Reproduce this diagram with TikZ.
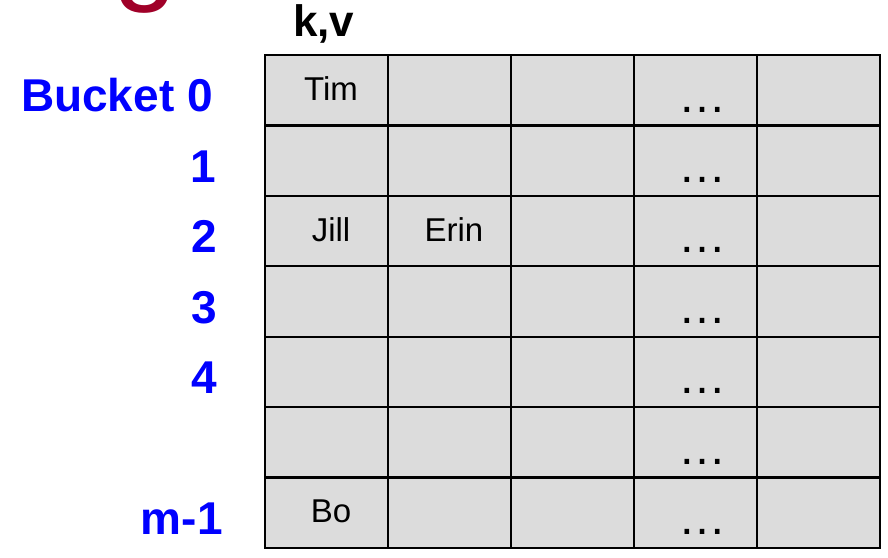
\documentclass[tikz,border=0pt]{standalone}
\usepackage{fontspec}
\setmainfont{Liberation Sans}
\usetikzlibrary{positioning}
\definecolor{cellGray}{HTML}{DCDCDC}
\definecolor{bktBlue}{HTML}{0000FF}
\definecolor{titleRed}{HTML}{A00028}
\tikzset{
  slot/.style={draw=black, line width=2.2pt, fill=cellGray, minimum width=123pt,
    minimum height=70.43pt, inner sep=0pt},
  entry/.style={font=\fontsize{33}{36}\selectfont, anchor=base, inner sep=0pt},
  bktlbl/.style={font=\fontsize{46}{50}\selectfont\bfseries, text=bktBlue,
    anchor=base east, inner sep=0pt}
}
\begin{document}
\begin{tikzpicture}[x=1pt, y=1pt]
  \useasboundingbox (0,0) rectangle (888,557);
  \clip (0,0) rectangle (888,557);
  % bottom of the title letter, cut off by the frame
  \node[font=\fontsize{115}{120}\selectfont, text=titleRed, anchor=base, inner sep=0pt] (ttl) at (145,567) {g};
  % the buckets
  \foreach \r in {0,...,6}
    \foreach \c in {0,...,4}
      \node[slot] (s\r\c) at ({326.5+123*\c},{502-70.43*(\r+0.5)}) {};
  \node[font=\fontsize{44}{48}\selectfont\bfseries, anchor=base west, inner sep=0pt] (kv) at (293,520) {k,v};
  \foreach \r/\x/\t in {0/213/Bucket 0, 1/216/1, 2/217/2, 3/217/3, 4/217/4, 6/223/m-1}
    \node[bktlbl] (b\r) at (\x,{502-70.43*(\r+0.5)-21.5}) {\t};
  % keys stored so far
  \foreach \r/\c/\t in {0/0/Tim, 2/0/Jill, 2/1/Erin, 6/0/Bo}
    \node[entry] (e\r\c) at ([xshift=4.5pt, yshift=-10pt]s\r\c.center) {\t};
  \foreach \r in {0,...,6}
    \node[font=\fontsize{48}{50}\selectfont, anchor=base, inner sep=0pt] (d\r) at ([xshift=7pt, yshift=14.5pt]s\r3.south) {…};
\end{tikzpicture}
\end{document}
